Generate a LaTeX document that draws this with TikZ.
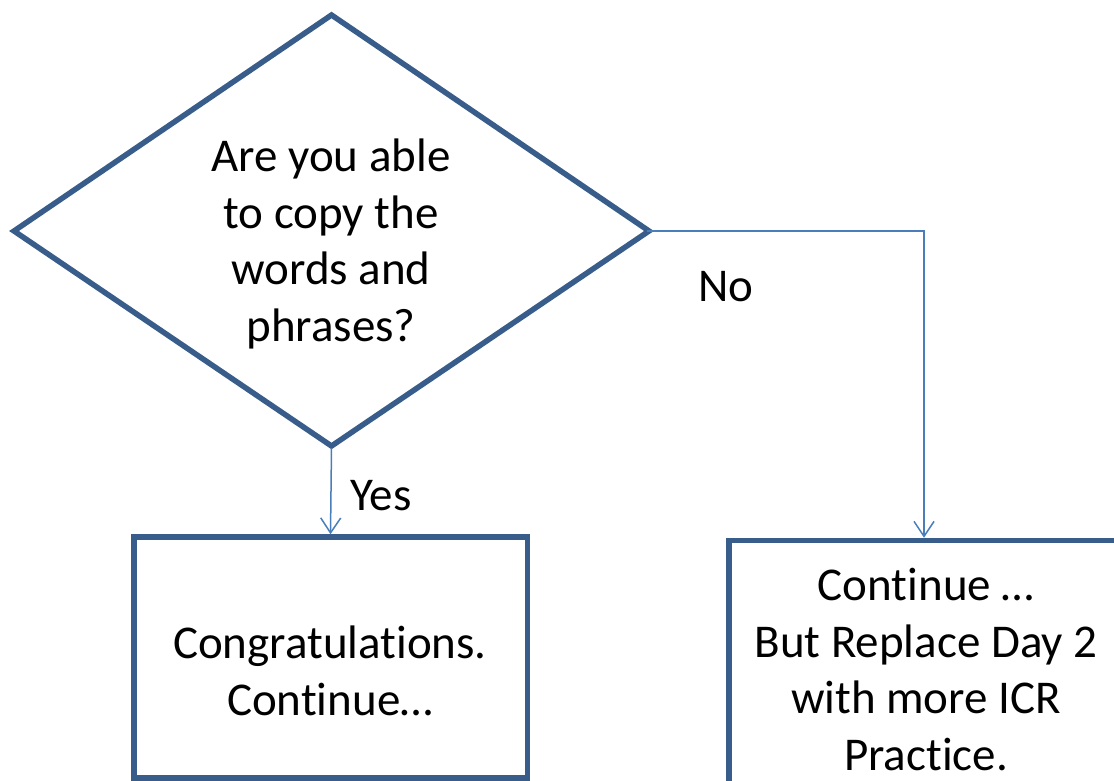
\documentclass[tikz,border=0pt]{standalone}
\usepackage{fontspec}
\setmainfont{Carlito}[Ligatures={NoCommon}]
\usetikzlibrary{arrows.meta}
\definecolor{shapeline}{RGB}{56,93,138}
\definecolor{linkline}{RGB}{74,126,187}
\begin{document}
\begin{tikzpicture}[x=1pt,y=-1pt,
  bigtext/.style={font=\fontsize{47}{56.5}\selectfont, align=center, inner sep=0pt},
  stepbox/.style={draw=shapeline, line width=5.5pt, fill=white, rectangle, inner sep=0pt},
  decision/.style={draw=shapeline, line width=5.5pt, line join=miter, fill=white},
  link/.style={draw=linkline, line width=1.5pt, -{Straight Barb[length=15pt,width=20pt,line width=1.5pt]}},
  answer/.style={font=\fontsize{47}{57}\selectfont, inner sep=0pt}]
\useasboundingbox (0,0) rectangle (1114,781);
\fill[white] (0,0) rectangle (1114,781);

% decision diamond
\coordinate (dT) at (331.5,15);
\coordinate (dR) at (649,231);
\coordinate (dB) at (331.5,446);
\coordinate (dL) at (14,231);
\draw[decision] (dT) -- (dR) -- (dB) -- (dL) -- cycle;
\node[bigtext] (question) at (331,244) {Are you able\\to copy the\\words and\\phrases?};

% outcome boxes
\node[stepbox, minimum width=393.5pt, minimum height=241pt] (yesbox) at (330.5,657.5) {};
\node[bigtext] (yestext) at (330,671) {Congratulations.\\Continue…};

\node[stepbox, minimum width=390pt, minimum height=260pt] (nobox) at (924,670.5) {};
\node[bigtext] (notext) at (926,669.5) {Continue …\\But Replace Day 2\\with more ICR\\Practice.};

% connectors
\draw[link] ([yshift=-2pt]dB) -- (yesbox.north);
\draw[link] ([xshift=-2pt]dR) -| (nobox.north);

% answer labels
\node[answer] (yeslabel) at (381,496) {Yes};
\node[answer] (nolabel) at (726,287) {No};
\end{tikzpicture}
\end{document}
